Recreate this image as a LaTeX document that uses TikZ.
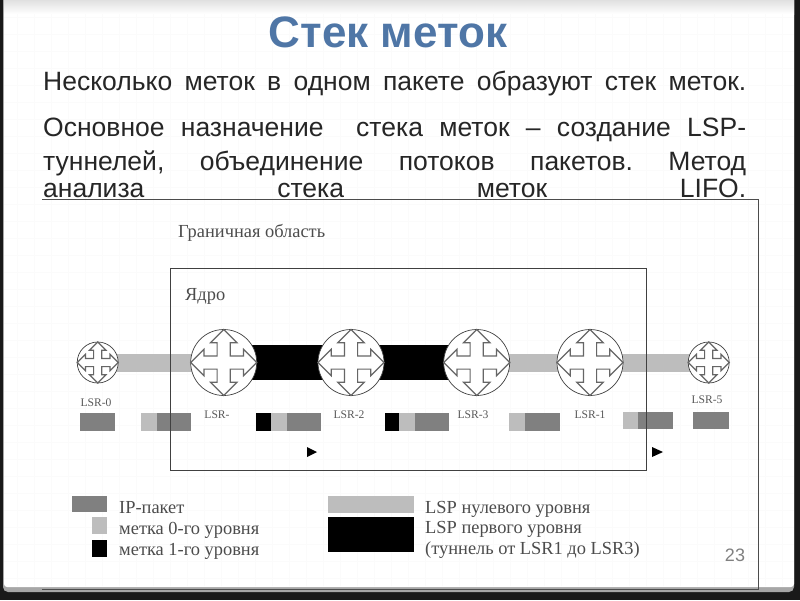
\documentclass[tikz,border=0pt]{standalone}
\usepackage{fontspec}
\setmainfont{Liberation Sans}
\newfontfamily\serifcut{Liberation Serif}
\definecolor{titleblue}{HTML}{4F76A6}
\definecolor{ipgray}{HTML}{808080}
\definecolor{labelgray}{HTML}{BDBDBD}
\definecolor{gridgray}{HTML}{FBFBFB}
\tikzset{
    router_big/.style={circle, draw=black!75, fill=white, line width=0.7pt, minimum size=66pt, inner sep=0pt},
    router_small/.style={circle, draw=black!75, fill=white, line width=0.7pt, minimum size=41pt, inner sep=0pt},
    lsp_zero/.style={line width=18pt, draw=labelgray},
    lsp_one/.style={line width=35pt, draw=black},
    ip_box/.style={fill=ipgray},
    label_zero/.style={fill=labelgray},
    label_one/.style={fill=black},
    body_text/.style={anchor=base west, inner sep=0pt, text=black!85, font=\fontsize{26.5}{26.5}\selectfont},
    lsr_text/.style={anchor=center, inner sep=0pt, text=black!65, font=\serifcut\fontsize{11.6}{11.6}\selectfont},
    leg_text/.style={anchor=base west, inner sep=0pt, text=black!70, font=\serifcut\fontsize{18.4}{18.4}\selectfont},
    cross_line/.style={draw=black!60, line width=1.2pt, fill=white, line join=miter}
}
% four headed arrow of a router, r is the radius
\newcommand{\crossarrows}[2]{%
  \draw[cross_line, shift={(#1)}, scale=#2]
    (0,-1) -- (.4,-.6) -- (.2,-.6) -- (.2,-.2) -- (.6,-.2) -- (.6,-.4) -- (1,0)
    -- (.6,.4) -- (.6,.2) -- (.2,.2) -- (.2,.6) -- (.4,.6) -- (0,1)
    -- (-.4,.6) -- (-.2,.6) -- (-.2,.2) -- (-.6,.2) -- (-.6,.4) -- (-1,0)
    -- (-.6,-.4) -- (-.6,-.2) -- (-.2,-.2) -- (-.2,-.6) -- (-.4,-.6) -- cycle;
}
\newcommand{\spreadline}[1]{\makebox[703pt][s]{\frenchspacing #1}}
\begin{document}
\begin{tikzpicture}[x=1pt, y=-1pt]
    \useasboundingbox (0,0) rectangle (800,600);
    % slide
    \fill[black!90] (0,0) rectangle (800,600);
    \fill[black!35, rounded corners=5pt] (3,-10) rectangle (794,592);
    \fill[white, rounded corners=3pt] (4,-10) rectangle (794,587);
    \shade[top color=black!12, bottom color=white] (4,0) rectangle (794,14);
    \draw[gridgray, line width=1pt] (4,14) grid[step=17pt] (794,586);
    % title and text
    \node[anchor=center, inner sep=0pt, text=titleblue, font=\bfseries\fontsize{44}{44}\selectfont] (title) at (388,32) {Стек меток};
    \node[body_text] (lineA) at (43,90) {\spreadline{Несколько меток в одном пакете образуют стек меток.}};
    \node[body_text] (lineB) at (43,136) {\spreadline{Основное назначение\ \ стека меток – создание LSP-}};
    \node[body_text] (lineC) at (43,170) {\spreadline{туннелей, объединение потоков пакетов. Метод}};
    \node[body_text] (lineD) at (43,197) {\spreadline{анализа стека меток LIFO.}};
    % picture frame
    \draw[black!70, line width=0.8pt] (42,199) -- (758,199) -- (758,589) -- (42,589);
    \node[leg_text] (areaname) at (178,237) {Граничная область};
    \node[leg_text] (corename) at (185,300) {Ядро};
    % routers
    \coordinate (c0) at (97.7,362.5);
    \coordinate (c1) at (223.7,362.5);
    \coordinate (c2) at (351,362.5);
    \coordinate (c3) at (476.7,362.5);
    \coordinate (c4) at (590,362.5);
    \coordinate (c5) at (708.7,362.5);
    \draw[lsp_zero] (c0) -- (c1);
    \draw[lsp_one] (c1) -- (c3);
    \draw[lsp_zero] (c3) -- (c4);
    \draw[lsp_zero] (c4) -- (c5);
    \node[router_small] (lsr0) at (c0) {};
    \node[router_big] (lsr1) at (c1) {};
    \node[router_big] (lsr2) at (c2) {};
    \node[router_big] (lsr3) at (c3) {};
    \node[router_big] (lsr4) at (c4) {};
    \node[router_small] (lsr5) at (c5) {};
    \crossarrows{c0}{20.5}
    \crossarrows{c1}{33}
    \crossarrows{c2}{33}
    \crossarrows{c3}{33}
    \crossarrows{c4}{33}
    \crossarrows{c5}{20.5}
    \node[lsr_text] (name0) at (96,403) {LSR-0};
    \node[lsr_text] (name1) at (217,415) {LSR-};
    \node[lsr_text] (name2) at (349,415) {LSR-2};
    \node[lsr_text] (name3) at (473,415) {LSR-3};
    \node[lsr_text] (name4) at (590,415) {LSR-1};
    \node[lsr_text] (name5) at (707,400) {LSR-5};
    % packets
    \fill[ip_box] (80,413) rectangle (115,431);
    \fill[label_zero] (141,413) rectangle (157,431);
    \fill[ip_box] (157,413) rectangle (191,431);
    \fill[label_one] (256,413) rectangle (271,431);
    \fill[label_zero] (271,413) rectangle (287,431);
    \fill[ip_box] (287,413) rectangle (321,431);
    \fill[label_one] (385,413) rectangle (399,431);
    \fill[label_zero] (399,413) rectangle (415,431);
    \fill[ip_box] (415,413) rectangle (449,431);
    \fill[label_zero] (509,413) rectangle (525,431);
    \fill[ip_box] (525,413) rectangle (560,431);
    \fill[label_zero] (623,412) rectangle (638,429);
    \fill[ip_box] (638,412) rectangle (673,429);
    \fill[ip_box] (693,412) rectangle (729,429);
    % core
    \draw[black!75, line width=0.8pt] (170,268) rectangle (646,470);
    \fill[black] (307,447) -- (317,452) -- (307,457) -- cycle;
    \fill[black] (652,447) -- (663,452) -- (652,457) -- cycle;
    % legend
    \fill[ip_box] (72,496) rectangle (107,512);
    \fill[label_zero] (92,517) rectangle (107,534);
    \fill[label_one] (92,540) rectangle (107,557);
    \node[leg_text] (legip) at (119,513) {IP-пакет};
    \node[leg_text] (legzero) at (119,534) {метка 0-го уровня};
    \node[leg_text] (legone) at (119,555) {метка 1-го уровня};
    \fill[label_zero] (328,496) rectangle (414,513);
    \fill[label_one] (328,517) rectangle (414,552);
    \node[leg_text] (leglspzero) at (425,513) {LSP нулевого уровня};
    \node[leg_text] (leglspone) at (425,533) {LSP первого уровня};
    \node[leg_text] (legtunnel) at (425,554) {(туннель от LSR1 до LSR3)};
    \node[anchor=center, inner sep=0pt, text=black!50, font=\fontsize{18}{18}\selectfont] (pagenum) at (735,555) {23};
\end{tikzpicture}
\end{document}
